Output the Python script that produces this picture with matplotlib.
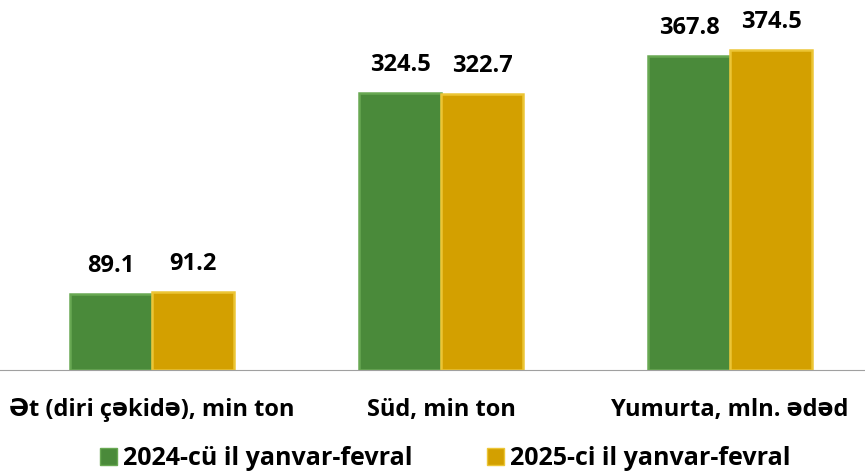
import numpy as np
import matplotlib.pyplot as plt
from matplotlib.patches import Patch

# data
categories = ['Ət (diri çəkidə), min ton', 'Süd, min ton', 'Yumurta, mln. ədəd']
series_names = ['2024-cü il yanvar-fevral', '2025-ci il yanvar-fevral']
values_2024 = [89.1, 324.5, 367.8]
values_2025 = [91.2, 322.7, 374.5]

green = '#4a8a3a'
gold = '#d3a000'
plt.rcParams['font.family'] = ['Open Sans', 'DejaVu Sans']

fig = plt.figure(figsize=(8.65, 4.72), dpi=100)
ax = fig.add_axes([0, 0.216, 1, 0.784])

x = np.arange(len(categories))
w = 0.284
b1 = ax.bar(x - w / 2, values_2024, w, color=green, edgecolor='#68a852', linewidth=1.8)
b2 = ax.bar(x + w / 2, values_2025, w, color=gold, edgecolor='#ecc535', linewidth=1.8)

# value labels
for bars, vals in [(b1, values_2024), (b2, values_2025)]:
    for r, v in zip(bars, vals):
        ax.text(r.get_x() + r.get_width() / 2, v + 33, f'{v:.1f}', ha='center', va='center',
                fontsize=17, fontweight='bold')

ax.set_xlim(-0.526, 2.467)
ax.set_ylim(0, 433)
ax.set_yticks([])
ax.set_xticks(x)
ax.set_xticklabels(categories, fontsize=17, fontweight='bold')
ax.tick_params(axis='x', length=0, pad=20)
for s in ['top', 'right', 'left']:
    ax.spines[s].set_visible(False)
ax.spines['bottom'].set_color('#a0a0a0')

handles = [Patch(facecolor=green, edgecolor='#68a852'), Patch(facecolor=gold, edgecolor='#ecc535')]
fig.legend(handles, series_names, loc='center', bbox_to_anchor=(0.515, 0.028), ncol=2, frameon=False,
           prop={'size': 18, 'weight': 'bold'}, handlelength=0.65, handleheight=0.65,
           handletextpad=0.25, columnspacing=3.0)

fig.savefig('out.png', dpi=100)
